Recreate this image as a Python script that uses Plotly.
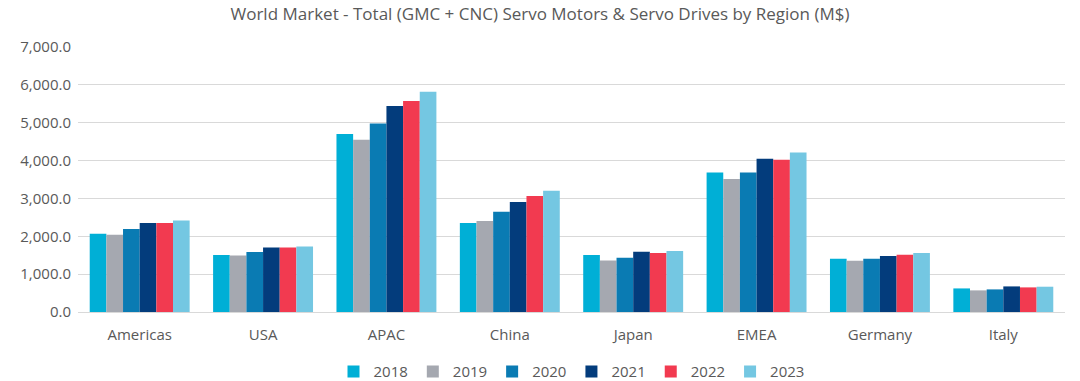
import plotly.graph_objects as go

regions = ["Americas", "USA", "APAC", "China", "Japan", "EMEA", "Germany", "Italy"]
years = ["2018", "2019", "2020", "2021", "2022", "2023"]

v2018 = [2068, 1505, 4701, 2350, 1505, 3688, 1408, 623]
v2019 = [2042, 1495, 4551, 2403, 1363, 3512, 1355, 571]
v2020 = [2192, 1585, 4982, 2649, 1434, 3688, 1408, 597]
v2021 = [2350, 1707, 5441, 2905, 1593, 4049, 1479, 676]
v2022 = [2350, 1707, 5573, 3064, 1558, 4023, 1513, 650]
v2023 = [2420, 1733, 5819, 3204, 1611, 4216, 1558, 668]

series = [v2018, v2019, v2020, v2021, v2022, v2023]
colors = ["#00AFD6", "#A5A8B0", "#0A7BB3", "#033C7C", "#F23A50", "#74C7E2"]

fig = go.Figure()
for name, vals, col in zip(years, series, colors):
    fig.add_trace(go.Bar(x=regions, y=vals, name=name, marker_color=col,
                         marker_line_width=0))

fig.update_layout(
    width=1080, height=381,
    margin=dict(l=78, r=15, t=47, b=69, autoexpand=False),
    paper_bgcolor="white", plot_bgcolor="white",
    font=dict(family="Open Sans, sans-serif", color="#595959", size=15),
    title=dict(text="World Market - Total (GMC + CNC) Servo Motors & Servo Drives by Region (M$)",
               x=0.5, xanchor="center", y=0.962, yanchor="middle",
               font=dict(size=17, color="#595959")),
    barmode="group", bargap=0.19, bargroupgap=0,
    legend=dict(orientation="h", x=0.5, xanchor="center", y=-0.225, yanchor="middle",
                font=dict(size=15, color="#595959"), traceorder="normal",
                itemwidth=30, tracegroupgap=0),
    showlegend=True,
)
fig.update_yaxes(range=[0, 7000], dtick=1000, tickformat=",.1f",
                 gridcolor="#D9D9D9", gridwidth=1, zeroline=True,
                 zerolinecolor="#D9D9D9", zerolinewidth=1,
                 tickfont=dict(size=15, color="#595959"), ticklen=0,
                 ticklabelstandoff=6)
fig.update_xaxes(showline=False, tickfont=dict(size=15, color="#595959"),
                 ticklabelstandoff=12)

fig.write_html("out.html", config={"displayModeBar": False},
               post_script="document.body.style.margin='0';document.body.style.overflow='hidden';")
